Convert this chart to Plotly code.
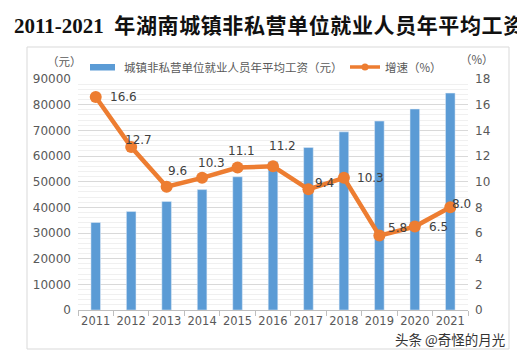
import plotly.graph_objects as go

years = ["2011", "2012", "2013", "2014", "2015", "2016", "2017", "2018", "2019", "2020", "2021"]
wages = [34100, 38400, 42300, 46900, 51900, 57900, 63300, 69400, 73600, 78300, 84500]
growth = [16.6, 12.7, 9.6, 10.3, 11.1, 11.2, 9.4, 10.3, 5.8, 6.5, 8.0]
growth_labels = ["16.6", "12.7", "9.6", "10.3", "11.1", "11.2", "9.4", "10.3", "5.8", "6.5", "8.0"]

title_years = "2011-2021"
title_rest = "年湖南城镇非私营单位就业人员年平均工资"
bar_name = "城镇非私营单位就业人员年平均工资（元）"
line_name = "增速（%）"
left_unit = "（元）"
right_unit = "（%）"
watermark = "头条 @奇怪的月光"

# style: pixel offsets of data labels relative to their points
label_dx = [27.5, 7, 10.5, 9, 4, 9, 16, 27, 18.5, 23.5, 11]
label_dy = [0, 7, 16, 15, 16.5, 20, 6, 0, 8, 0, 3]

W, H = 517, 356
L, R, T, B = 78, 49, 79, 46
pw, ph = W - L - R, H - T - B

BLUE = "#5B9BD5"
ORANGE = "#ED7D31"
GREY = "#595959"
CJK = "Noto Sans CJK SC"
NUM = "DejaVu Sans"

fig = go.Figure()
fig.add_trace(go.Bar(x=years, y=wages, marker_color=BLUE, width=0.27, name=bar_name,
                     showlegend=False, yaxis="y"))
fig.add_trace(go.Scatter(x=years, y=growth, mode="lines+markers", name=line_name,
                         line=dict(color=ORANGE, width=4.5),
                         marker=dict(color=ORANGE, size=12),
                         showlegend=False, yaxis="y2"))

annotations = []
for i, (g, t) in enumerate(zip(growth, growth_labels)):
    annotations.append(dict(x=i, y=g, xref="x", yref="y2", text=t, showarrow=False,
                            xshift=label_dx[i], yshift=label_dy[i],
                            font=dict(family=NUM, size=12, color="#404040")))

def px_x(p):
    return (p - L) / pw

def px_y(p):
    return (H - B - p) / ph

# custom legend
legend_font = dict(family=CJK, size=11.5, color=GREY)
annotations.append(dict(x=px_x(122), y=px_y(67), xref="paper", yref="paper", text=bar_name,
                        showarrow=False, xanchor="left", yanchor="middle", font=legend_font))
annotations.append(dict(x=px_x(383), y=px_y(67), xref="paper", yref="paper", text=line_name,
                        showarrow=False, xanchor="left", yanchor="middle", font=legend_font))
annotations.append(dict(x=px_x(64), y=px_y(61), xref="paper", yref="paper", text=left_unit,
                        showarrow=False, xanchor="center", yanchor="middle", font=legend_font))
annotations.append(dict(x=px_x(477), y=px_y(59), xref="paper", yref="paper", text=right_unit,
                        showarrow=False, xanchor="center", yanchor="middle", font=legend_font))
annotations.append(dict(x=px_x(507), y=px_y(339), xref="paper", yref="paper", text=watermark,
                        showarrow=False, xanchor="right", yanchor="middle",
                        font=dict(family=CJK, size=13.5, color="#333333")))

shapes = [
    dict(type="rect", xref="paper", yref="paper", x0=px_x(27), x1=px_x(509), y0=px_y(349), y1=px_y(47),
         line=dict(color="#D9D9D9", width=1), fillcolor="rgba(0,0,0,0)", layer="below"),
    dict(type="rect", xref="paper", yref="paper", x0=px_x(90), x1=px_x(115), y0=px_y(70.5), y1=px_y(64),
         line=dict(width=0), fillcolor=BLUE),
    dict(type="line", xref="paper", yref="paper", x0=px_x(350), x1=px_x(380), y0=px_y(67), y1=px_y(67),
         line=dict(color=ORANGE, width=3.5)),
    dict(type="circle", xref="paper", yref="paper", x0=px_x(361.5), x1=px_x(368.5), y0=px_y(70.5), y1=px_y(63.5),
         line=dict(width=0), fillcolor=ORANGE),
]

title_html = (title_years + "  <span style='font-size:21px;letter-spacing:0.6px'>" + title_rest + "</span>")

fig.update_layout(
    width=W, height=H,
    margin=dict(l=L, r=R, t=T, b=B),
    paper_bgcolor="white", plot_bgcolor="white",
    title=dict(text=title_html, x=14 / W, xanchor="left", xref="container",
               y=1 - 26 / H, yanchor="middle", yref="container",
               font=dict(family="Liberation Serif, " + CJK, size=21, color="#111111", weight="bold")),
    xaxis=dict(type="category", range=[-0.5, len(years) - 0.5], autorange=False,
               showline=True, linecolor="#BFBFBF", linewidth=1, tickangle=0,
               ticks="outside", tickson="boundaries", ticklen=5, tickcolor="#BFBFBF",
               tickfont=dict(family=NUM, size=11.5, color=GREY), showgrid=False),
    yaxis=dict(range=[0, 90000], dtick=10000, tickformat="d", showgrid=True,
               gridcolor="#D9D9D9", gridwidth=1, zeroline=False, showline=False,
               tickfont=dict(family=NUM, size=12, color=GREY), ticks="", ticklabelstandoff=6,
               minor=dict(dtick=2000, showgrid=True, gridcolor="#F0F0F0", gridwidth=1)),
    yaxis2=dict(range=[0, 18], dtick=2, overlaying="y", side="right", showgrid=False,
                zeroline=False, showline=False,
                tickfont=dict(family=NUM, size=12, color=GREY), ticklabelstandoff=6),
    annotations=annotations,
    shapes=shapes,
)

fig.write_html("out.html", config={"displayModeBar": False},
               post_script="document.body.style.margin='0px';document.body.style.overflow='hidden';")
